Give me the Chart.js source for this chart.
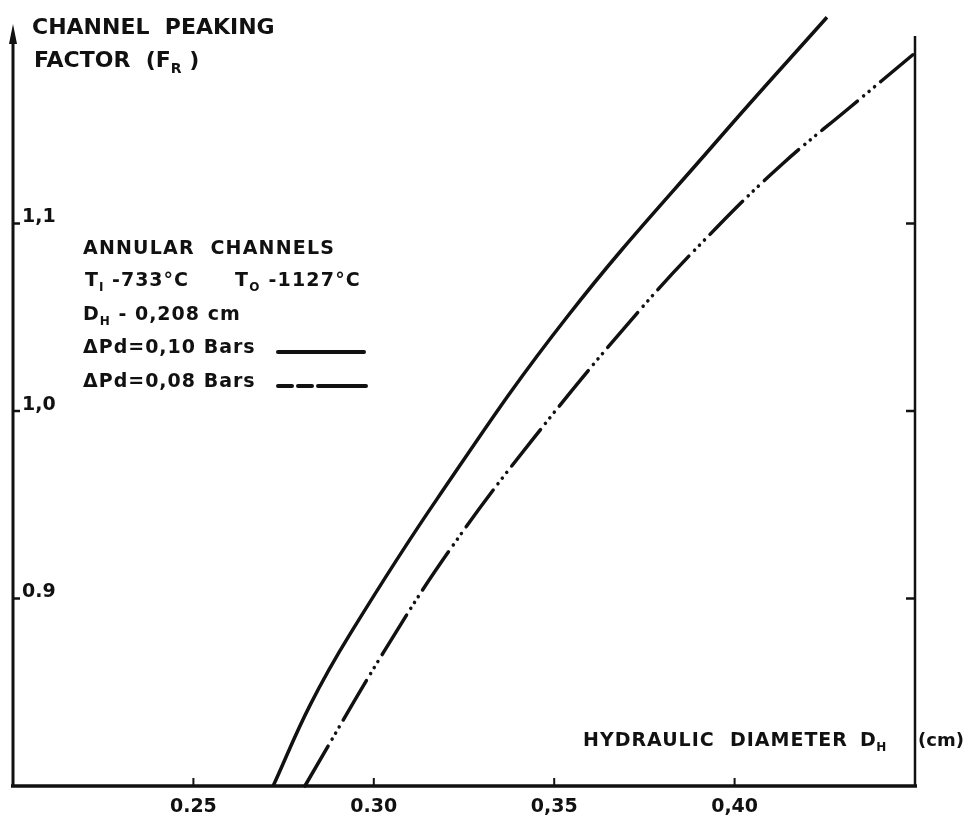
<!DOCTYPE html>
<html>
<head>
<meta charset="utf-8">
<script src="https://cdn.jsdelivr.net/npm/chart.js@4/dist/chart.umd.min.js"></script>
<style>
html,body{margin:0;padding:0;background:#fff;}
#wrap{width:968px;height:821px;}
</style>
</head>
<body>
<div id="wrap"><canvas id="c" width="968" height="821"></canvas></div>
<script>
// ---- data ----
const solidX = [0.2721, 0.2823, 0.2934, 0.3175, 0.3535, 0.3960, 0.4256];
const solidY = [0.800, 0.843, 0.881, 0.953, 1.050, 1.146, 1.210];
const dashX = [0.2809, 0.3026, 0.3211, 0.3441, 0.3738, 0.3951, 0.4134, 0.4320, 0.4494];
const dashY = [0.800, 0.871, 0.926, 0.985, 1.054, 1.098, 1.132, 1.162, 1.190];
const xTicks = [0.25, 0.30, 0.35, 0.40];
const xTickLabels = ["0.25", "0.30", "0,35", "0,40"];
const yTicks = [0.9, 1.0, 1.1];
const yTickLabels = ["0.9", "1,0", "1,1"];
const seriesNames = ["\u0394Pd=0,10 Bars", "\u0394Pd=0,08 Bars"];

const toPts = (xs, ys) => xs.map((x, i) => ({x: x, y: ys[i]}));
const INK = '#111';
const FONT = '"DejaVu Sans", sans-serif';

// draw text with subscript segments
function richText(ctx, x, y, parts, size, spacing) {
  let cx = x;
  for (const p of parts) {
    const s = p.sub ? Math.round(size * 0.62) : size;
    ctx.font = 'bold ' + s + 'px ' + FONT;
    ctx.letterSpacing = (spacing || 0) + 'px';
    const dy = p.sub ? size * 0.28 : 0;
    ctx.fillText(p.t, cx, y + dy);
    cx += ctx.measureText(p.t).width;
  }
  ctx.letterSpacing = '0px';
  return cx;
}

const decor = {
  id: 'decor',
  afterDraw(chart) {
    const ctx = chart.ctx;
    const xs = chart.scales.x, ys = chart.scales.y;
    const L = xs.getPixelForValue(0.20), R = xs.getPixelForValue(0.45);
    const B = ys.getPixelForValue(0.80), T = ys.getPixelForValue(1.20);
    ctx.save();
    ctx.strokeStyle = INK; ctx.fillStyle = INK; ctx.lineCap = 'butt';
    // left axis with arrow
    ctx.lineWidth = 3;
    ctx.beginPath(); ctx.moveTo(L, B + 1); ctx.lineTo(L, T - 2); ctx.stroke();
    ctx.beginPath(); ctx.moveTo(L, T - 12); ctx.lineTo(L - 4, T + 8); ctx.lineTo(L + 4, T + 8); ctx.closePath(); ctx.fill();
    // bottom axis
    ctx.lineWidth = 3.5;
    ctx.beginPath(); ctx.moveTo(L - 2, B); ctx.lineTo(R + 2, B); ctx.stroke();
    // right axis
    ctx.lineWidth = 2.5;
    ctx.beginPath(); ctx.moveTo(R, B + 1); ctx.lineTo(R, T); ctx.stroke();
    // x ticks
    ctx.lineWidth = 2;
    ctx.textAlign = 'center'; ctx.textBaseline = 'middle';
    ctx.font = 'bold 19px ' + FONT;
    xTicks.forEach((v, i) => {
      const px = xs.getPixelForValue(v);
      ctx.beginPath(); ctx.moveTo(px, B); ctx.lineTo(px, B - 8); ctx.stroke();
      ctx.fillText(xTickLabels[i], px, B + 21);
    });
    // y ticks left and right
    ctx.textAlign = 'left';
    yTicks.forEach((v, i) => {
      const py = ys.getPixelForValue(v);
      ctx.lineWidth = 2.5;
      ctx.beginPath(); ctx.moveTo(L, py); ctx.lineTo(L + 7, py); ctx.stroke();
      ctx.beginPath(); ctx.moveTo(R, py); ctx.lineTo(R - 9, py); ctx.stroke();
      ctx.font = 'bold 19px ' + FONT;
      ctx.fillText(yTickLabels[i], L + 9, py - 6);
    });
    // y axis title
    ctx.textBaseline = 'alphabetic';
    richText(ctx, 32, 34, [{t: 'CHANNEL  PEAKING'}], 22, 0);
    richText(ctx, 34, 67, [{t: 'FACTOR  (F'}, {t: 'R', sub: true}, {t: ' )'}], 22, 0);
    // x axis title
    richText(ctx, 583, 746, [{t: 'HYDRAULIC  DIAMETER'}], 19, 1);
    richText(ctx, 860, 746, [{t: 'D'}, {t: 'H', sub: true}], 19, 0.5);
    richText(ctx, 918, 746, [{t: '(cm)'}], 18, 0);
    // annotation block
    const ax = 83;
    richText(ctx, ax, 254, [{t: 'ANNULAR  CHANNELS'}], 19, 1.2);
    richText(ctx, ax + 2, 286, [{t: 'T'}, {t: 'I', sub: true}, {t: ' -733\u00b0C'}], 19, 1);
    richText(ctx, 235, 286, [{t: 'T'}, {t: 'O', sub: true}, {t: ' -1127\u00b0C'}], 19, 1.2);
    richText(ctx, ax, 320, [{t: 'D'}, {t: 'H', sub: true}, {t: ' - 0,208 cm'}], 19, 1);
    richText(ctx, ax, 353, [{t: seriesNames[0]}], 19, 1);
    richText(ctx, ax, 387, [{t: seriesNames[1]}], 19, 1);
    // legend samples
    ctx.lineWidth = 4; ctx.lineCap = 'round';
    ctx.beginPath(); ctx.moveTo(278, 352); ctx.lineTo(364, 352); ctx.stroke();
    ctx.setLineDash([14, 6, 14, 6, 60]);
    ctx.beginPath(); ctx.moveTo(278, 386); ctx.lineTo(366, 386); ctx.stroke();
    ctx.setLineDash([]);
    ctx.restore();
  }
};

new Chart(document.getElementById('c'), {
  type: 'line',
  data: {
    datasets: [
      {
        label: seriesNames[0],
        data: toPts(solidX, solidY),
        borderColor: INK, borderWidth: 3.5,
        pointRadius: 0, tension: 0.4,
        clip: false, fill: false
      },
      {
        label: seriesNames[1],
        data: toPts(dashX, dashY),
        borderColor: INK, borderWidth: 3.5,
        borderDash: [46, 8, 0.1, 7, 0.1, 7, 0.1, 8],
        borderCapStyle: 'round',
        pointRadius: 0, tension: 0.4,
        clip: false, fill: false
      }
    ]
  },
  options: {
    responsive: false,
    animation: false,
    events: [],
    layout: {padding: {left: 13, right: 53, top: 36, bottom: 35}},
    plugins: {legend: {display: false}, tooltip: {enabled: false}},
    scales: {
      x: {type: 'linear', min: 0.20, max: 0.45, display: false},
      y: {type: 'linear', min: 0.80, max: 1.20, display: false}
    }
  },
  plugins: [decor]
});
</script>
</body>
</html>
